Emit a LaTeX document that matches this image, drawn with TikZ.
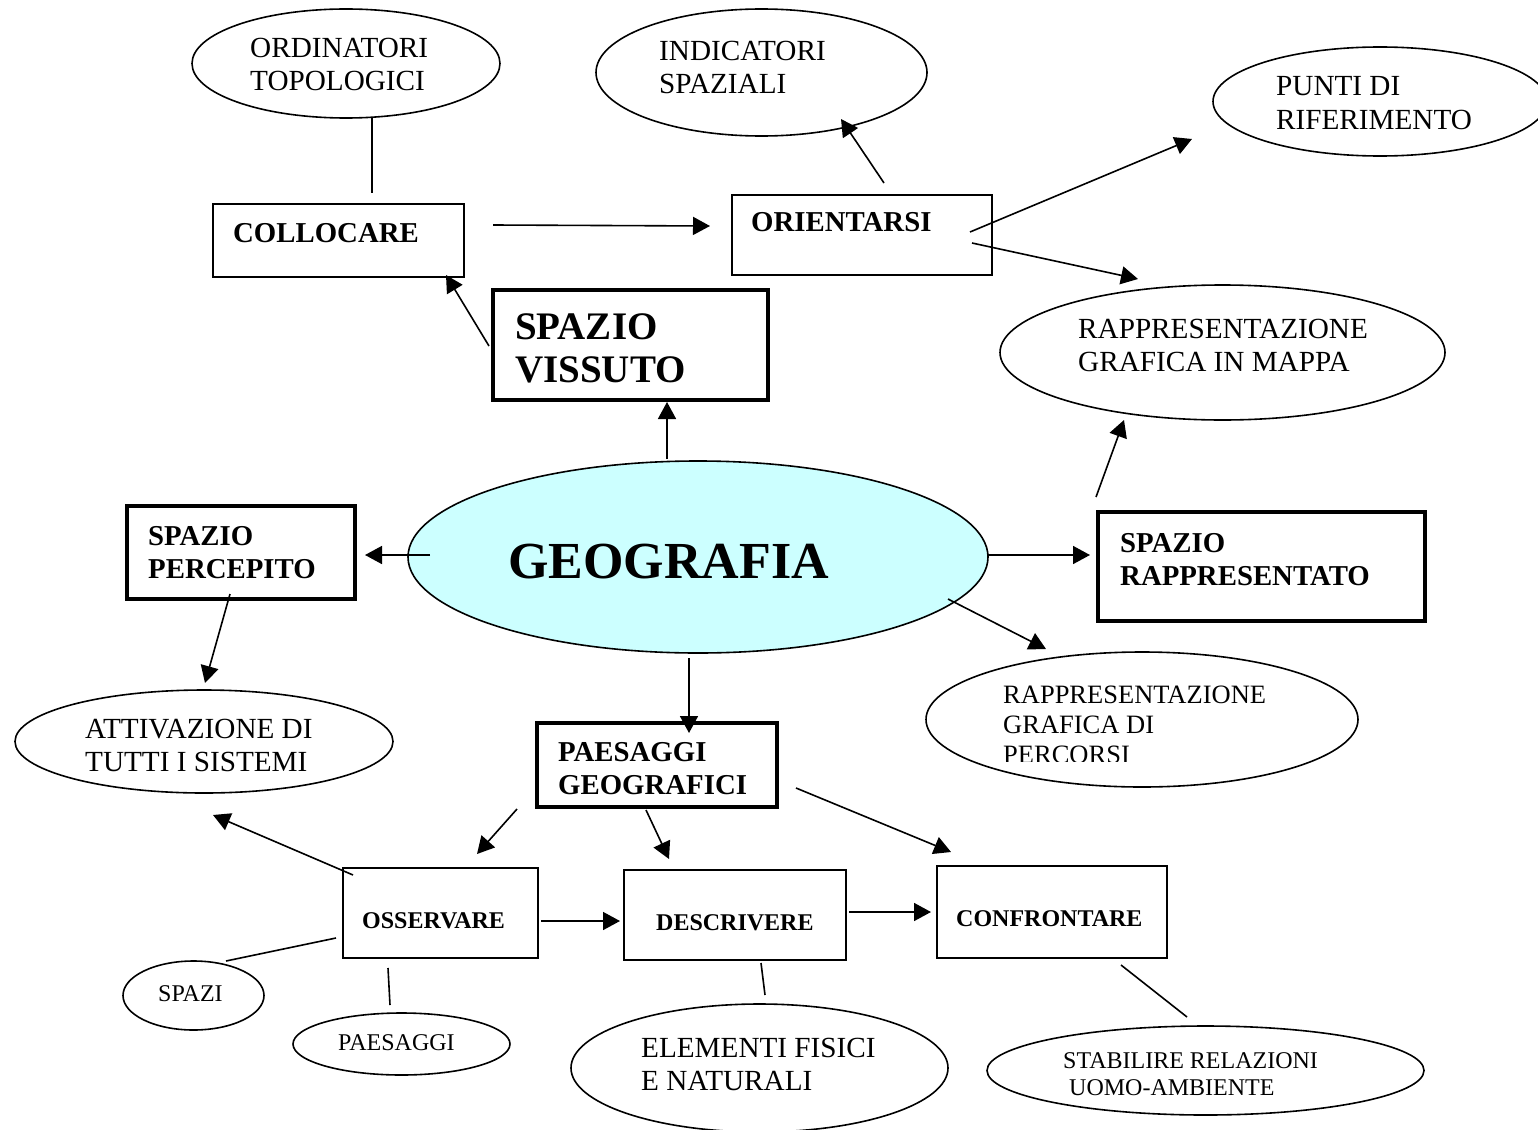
\documentclass[tikz,border=0pt]{standalone}
\usepackage{fontspec}
\setmainfont{Liberation Serif}
\usetikzlibrary{arrows.meta,shapes.geometric}
\definecolor{geocyan}{RGB}{204,255,255}

\begin{document}
\begin{tikzpicture}[x=1pt,y=-1pt,
  thin/.style={line width=1.6pt},
  box/.style={draw, thin, rectangle, inner sep=0pt},
  heavybox/.style={draw, line width=4.5pt, rectangle, inner sep=0pt},
  oval/.style={draw, thin, ellipse, inner sep=0pt},
  % multi-line labels are placed by the baseline of their last line
  txt/.style={inner sep=0pt, anchor=base west, align=left},
  rm/.style={txt, font=\fontsize{29.2}{33}\selectfont},
  rmmid/.style={txt, font=\fontsize{26.5}{30}\selectfont},
  rmsmall/.style={txt, font=\fontsize{24}{27.5}\selectfont},
  bf/.style={txt, font=\fontsize{28.8}{33}\selectfont\bfseries},
  bfsmall/.style={txt, font=\fontsize{24}{27.5}\selectfont\bfseries},
  bfbig/.style={txt, font=\fontsize{39}{43}\selectfont\bfseries},
  bftitle/.style={txt, font=\fontsize{52}{60}\selectfont\bfseries},
  arr/.style={thin, -{Triangle[length=17pt,width=18pt]}},
  link/.style={thin}
]
\useasboundingbox (0,0) rectangle (1538,1129);

% ---------- shapes ----------
\node[oval, minimum width=308, minimum height=109] (ordi) at (346,63.5) {};
\node[oval, minimum width=331, minimum height=127] (indic) at (761.5,72.5) {};
\node[oval, minimum width=334, minimum height=109] (punti) at (1380,101.5) {};
\node[box, minimum width=251, minimum height=73] (colloc) at (338.5,240.5) {};
\node[box, minimum width=260, minimum height=80] (orient) at (862,235) {};
\node[heavybox, minimum width=275, minimum height=110] (vissuto) at (630.5,345) {};
\node[oval, minimum width=445, minimum height=135] (mappa) at (1222.5,352.5) {};
\node[oval, fill=geocyan, minimum width=580, minimum height=192] (geo) at (698,557) {};
\node[heavybox, minimum width=228, minimum height=93] (percepito) at (241,552.5) {};
\node[heavybox, minimum width=327, minimum height=109] (rappr) at (1261.5,566.5) {};
\node[oval, minimum width=432, minimum height=135] (percorsi) at (1142,719.5) {};
\node[oval, minimum width=378, minimum height=103] (attiv) at (204,741.5) {};
\node[heavybox, minimum width=240, minimum height=84] (paesgeo) at (657,765) {};
\node[box, minimum width=195, minimum height=90] (osserv) at (440.5,913) {};
\node[box, minimum width=222, minimum height=90] (descr) at (735,915) {};
\node[box, minimum width=230, minimum height=92] (confr) at (1052,912) {};
\node[oval, minimum width=141, minimum height=69] (spazi) at (193.5,995.5) {};
\node[oval, minimum width=217, minimum height=62] (paes) at (401.5,1044) {};
\node[oval, minimum width=377, minimum height=128] (elem) at (759.5,1068) {};
\node[oval, minimum width=437, minimum height=89] (stab) at (1205.5,1070.5) {};

% ---------- labels ----------
\node[rm] (tOrdi) at (250,91) {ORDINATORI\\TOPOLOGICI};
\node[rm] (tIndic) at (659,94) {INDICATORI\\SPAZIALI};
\node[rm] (tPunti) at (1276,129) {PUNTI DI\\RIFERIMENTO};
\node[bf] (tColloc) at (233,242) {COLLOCARE};
\node[bf] (tOrient) at (751,231) {ORIENTARSI};
\node[bfbig] (tVissuto) at (515,382) {SPAZIO\\VISSUTO};
\node[rm] (tMappa) at (1078,371) {RAPPRESENTAZIONE\\GRAFICA IN MAPPA};
\node[bftitle] (tGeo) at (508,578) {GEOGRAFIA};
\node[bf] (tPercepito) at (148,578) {SPAZIO\\PERCEPITO};
\node[bf] (tRappr) at (1120,585) {SPAZIO\\RAPPRESENTATO};
\begin{scope}
  \clip (900,640) rectangle (1400,761);
  \node[rmmid] (tPercorsi) at (1003,763) {RAPPRESENTAZIONE\\GRAFICA DI\\PERCORSI};
\end{scope}
\node[rm] (tAttiv) at (85,771) {ATTIVAZIONE DI\\TUTTI I SISTEMI};
\node[bf] (tPaesgeo) at (558,794) {PAESAGGI\\GEOGRAFICI};
\node[bfsmall] (tOsserv) at (362,928) {OSSERVARE};
\node[bfsmall] (tDescr) at (656,930) {DESCRIVERE};
\node[bfsmall] (tConfr) at (956,926) {CONFRONTARE};
\node[rmsmall] (tSpazi) at (158,1001) {SPAZI};
\node[rmsmall] (tPaes) at (338,1050) {PAESAGGI};
\node[rm] (tElem) at (641,1090) {ELEMENTI FISICI\\E NATURALI};
\node[rmsmall] (tStab) at (1063,1095.5) {STABILIRE RELAZIONI\\\hspace*{6pt}UOMO-AMBIENTE};

% ---------- connector end points ----------
\coordinate (c1a) at (493,225);   \coordinate (c1b) at (710,226);
\coordinate (c2a) at (884,183);   \coordinate (c2b) at (841,119);
\coordinate (c3a) at (970,232);   \coordinate (c3b) at (1192,139);
\coordinate (c4a) at (972,243);   \coordinate (c4b) at (1138,279);
\coordinate (c5a) at (489,346);   \coordinate (c5b) at (446,275);
\coordinate (c6a) at (667,459);   \coordinate (c6b) at (667,402);
\coordinate (c7a) at (1096,497);  \coordinate (c7b) at (1124,420);
\coordinate (c8a) at (430,555);   \coordinate (c8b) at (365,555);
\coordinate (c9a) at (988,555);   \coordinate (c9b) at (1090,555);
\coordinate (c10a) at (230,594);  \coordinate (c10b) at (205,683);
\coordinate (c11a) at (948,599);  \coordinate (c11b) at (1046,649);
\coordinate (c12a) at (689,658);  \coordinate (c12b) at (689,733);
\coordinate (c13a) at (517,809);  \coordinate (c13b) at (477,854);
\coordinate (c14a) at (646,810);  \coordinate (c14b) at (669,859);
\coordinate (c15a) at (796,788);  \coordinate (c15b) at (951,852);
\coordinate (c16a) at (353,875);  \coordinate (c16b) at (213,815);
\coordinate (c17a) at (541,921);  \coordinate (c17b) at (620,921);
\coordinate (c18a) at (849,912);  \coordinate (c18b) at (931,912);
\coordinate (l1a) at (372,118);   \coordinate (l1b) at (372,193);
\coordinate (l2a) at (336,938);   \coordinate (l2b) at (226,961);
\coordinate (l3a) at (388,968);   \coordinate (l3b) at (390,1005);
\coordinate (l4a) at (761,963);   \coordinate (l4b) at (765,995);
\coordinate (l5a) at (1121,965);  \coordinate (l5b) at (1187,1017);

% ---------- arrows ----------
\draw[arr] (c1a) -- (c1b);
\draw[arr] (c2a) -- (c2b);
\draw[arr] (c3a) -- (c3b);
\draw[arr] (c4a) -- (c4b);
\draw[arr] (c5a) -- (c5b);
\draw[arr] (c6a) -- (c6b);
\draw[arr] (c7a) -- (c7b);
\draw[arr] (c8a) -- (c8b);
\draw[arr] (c9a) -- (c9b);
\draw[arr] (c10a) -- (c10b);
\draw[arr] (c11a) -- (c11b);
\draw[arr] (c12a) -- (c12b);
\draw[arr] (c13a) -- (c13b);
\draw[arr] (c14a) -- (c14b);
\draw[arr] (c15a) -- (c15b);
\draw[arr] (c16a) -- (c16b);
\draw[arr] (c17a) -- (c17b);
\draw[arr] (c18a) -- (c18b);

% ---------- plain links ----------
\draw[link] (l1a) -- (l1b);
\draw[link] (l2a) -- (l2b);
\draw[link] (l3a) -- (l3b);
\draw[link] (l4a) -- (l4b);
\draw[link] (l5a) -- (l5b);
\end{tikzpicture}
\end{document}
